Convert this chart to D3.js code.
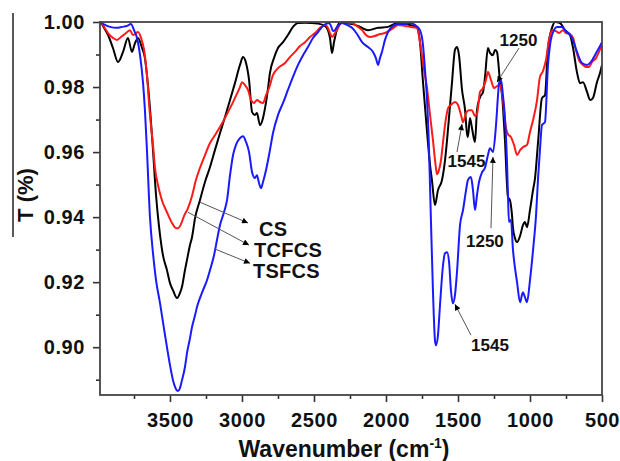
<!DOCTYPE html>
<html>
<head>
<meta charset="utf-8">
<script src="https://cdnjs.cloudflare.com/ajax/libs/d3/7.8.5/d3.min.js"></script>
<style>
  body { margin: 0; background: #fff; }
  text { font-family: Arial, "Liberation Sans", sans-serif; font-weight: bold; fill: #111; }
</style>
</head>
<body>
<script>
// FTIR spectra, [wavenumber (cm-1), T]
var csData = [
  [3986,1.0000],[3979,0.9998],[3958,0.9982],[3930,0.9960],[3896,0.9920],[3861,0.9877],[3826,0.9908],
  [3792,0.9951],[3764,0.9908],[3743,0.9935],[3722,0.9951],[3694,0.9920],[3674,0.9889],[3660,0.9837],
  [3639,0.9735],[3618,0.9606],[3597,0.9468],[3583,0.9400],[3569,0.9345],[3549,0.9283],[3521,0.9237],
  [3500,0.9197],[3479,0.9175],[3451,0.9151],[3431,0.9166],[3417,0.9185],[3396,0.9237],[3382,0.9268],
  [3361,0.9314],[3347,0.9338],[3326,0.9397],[3292,0.9452],[3257,0.9508],[3222,0.9554],[3188,0.9606],
  [3153,0.9658],[3118,0.9708],[3083,0.9760],[3049,0.9812],[3014,0.9868],[2993,0.9892],[2972,0.9874],
  [2951,0.9822],[2930,0.9723],[2910,0.9714],[2896,0.9720],[2875,0.9683],[2854,0.9705],[2840,0.9735],
  [2819,0.9797],[2806,0.9843],[2778,0.9889],[2750,0.9920],[2715,0.9938],[2681,0.9960],[2646,0.9985],
  [2611,0.9997],[2562,0.9998],[2472,0.9995],[2424,0.9988],[2403,0.9975],[2389,0.9951],[2375,0.9905],
  [2361,0.9938],[2347,0.9966],[2333,0.9991],[2319,0.9997],[2236,0.9994],[2180,0.9985],[2125,0.9975],
  [2055,0.9982],[1986,0.9985],[1917,0.9997],[1833,0.9991],[1785,0.9982],[1764,0.9938],[1743,0.9815],
  [1715,0.9662],[1694,0.9560],[1681,0.9514],[1660,0.9437],[1639,0.9483],[1611,0.9514],[1590,0.9575],
  [1576,0.9637],[1555,0.9745],[1542,0.9812],[1521,0.9914],[1507,0.9923],[1493,0.9898],[1472,0.9791],
  [1451,0.9729],[1438,0.9658],[1431,0.9646],[1417,0.9705],[1403,0.9674],[1382,0.9631],[1368,0.9729],
  [1347,0.9769],[1326,0.9785],[1313,0.9828],[1292,0.9920],[1278,0.9905],[1257,0.9898],[1243,0.9914],
  [1229,0.9908],[1208,0.9815],[1194,0.9775],[1174,0.9637],[1153,0.9462],[1139,0.9452],[1125,0.9406],
  [1118,0.9366],[1104,0.9335],[1090,0.9323],[1069,0.9342],[1049,0.9375],[1035,0.9385],[1021,0.9369],
  [1000,0.9422],[979,0.9483],[965,0.9520],[944,0.9631],[917,0.9766],[896,0.9775],[875,0.9920],
  [847,0.9982],[826,1.0000],[792,0.9997],[757,0.9975],[722,0.9960],[701,0.9920],[674,0.9846],
  [653,0.9812],[632,0.9815],[604,0.9785],[583,0.9760],[563,0.9766],[535,0.9815],[514,0.9843],[500,0.9868]
];

var tcfcsData = [
  [3986,1.0000],[3958,0.9985],[3930,0.9966],[3896,0.9951],[3868,0.9945],[3840,0.9954],[3805,0.9966],
  [3778,0.9975],[3757,0.9960],[3736,0.9966],[3722,0.9969],[3701,0.9951],[3680,0.9914],[3660,0.9837],
  [3639,0.9714],[3618,0.9622],[3604,0.9551],[3583,0.9498],[3556,0.9452],[3521,0.9415],[3486,0.9382],
  [3458,0.9366],[3444,0.9366],[3424,0.9378],[3403,0.9403],[3375,0.9428],[3347,0.9465],[3320,0.9514],
  [3292,0.9551],[3257,0.9591],[3222,0.9628],[3188,0.9652],[3153,0.9677],[3118,0.9705],[3083,0.9735],
  [3049,0.9766],[3014,0.9800],[3000,0.9815],[2979,0.9806],[2958,0.9791],[2937,0.9760],[2917,0.9751],
  [2896,0.9760],[2875,0.9754],[2854,0.9751],[2833,0.9775],[2812,0.9797],[2785,0.9837],[2750,0.9858],
  [2701,0.9874],[2667,0.9892],[2632,0.9908],[2597,0.9926],[2562,0.9938],[2528,0.9954],[2493,0.9966],
  [2458,0.9982],[2424,0.9991],[2403,0.9982],[2389,0.9966],[2375,0.9954],[2354,0.9966],[2340,0.9975],
  [2319,0.9994],[2306,1.0000],[2264,0.9998],[2236,0.9997],[2194,0.9985],[2166,0.9975],[2139,0.9960],
  [2111,0.9954],[2077,0.9957],[2042,0.9963],[2007,0.9966],[1972,0.9975],[1938,0.9985],[1917,0.9991],
  [1868,0.9988],[1833,0.9985],[1785,0.9982],[1764,0.9938],[1736,0.9852],[1715,0.9797],[1694,0.9714],
  [1674,0.9637],[1653,0.9551],[1646,0.9532],[1632,0.9545],[1618,0.9575],[1604,0.9631],[1583,0.9705],
  [1569,0.9735],[1549,0.9745],[1521,0.9754],[1500,0.9745],[1479,0.9714],[1465,0.9692],[1444,0.9720],
  [1424,0.9729],[1403,0.9729],[1382,0.9711],[1368,0.9717],[1347,0.9785],[1326,0.9797],[1306,0.9822],
  [1292,0.9846],[1271,0.9822],[1250,0.9797],[1229,0.9803],[1208,0.9806],[1188,0.9760],[1167,0.9674],
  [1153,0.9655],[1132,0.9646],[1111,0.9622],[1090,0.9591],[1069,0.9606],[1049,0.9615],[1021,0.9622],
  [1000,0.9662],[979,0.9698],[951,0.9760],[931,0.9831],[910,0.9849],[889,0.9883],[868,0.9945],
  [847,0.9975],[819,0.9972],[799,0.9966],[771,0.9975],[750,0.9966],[722,0.9963],[701,0.9951],
  [681,0.9914],[660,0.9883],[632,0.9868],[611,0.9862],[590,0.9862],[569,0.9877],[542,0.9889],
  [521,0.9908],[500,0.9929]
];

var tsfcsData = [
  [3986,1.0000],[3951,0.9991],[3917,0.9985],[3868,0.9982],[3833,0.9985],[3798,0.9988],[3771,0.9994],
  [3750,0.9975],[3729,0.9951],[3708,0.9898],[3687,0.9812],[3674,0.9729],[3660,0.9606],[3639,0.9400],
  [3618,0.9289],[3597,0.9206],[3569,0.9135],[3542,0.9058],[3521,0.9000],[3500,0.8945],[3479,0.8898],
  [3458,0.8871],[3444,0.8865],[3431,0.8874],[3417,0.8898],[3396,0.8939],[3382,0.8982],[3361,0.9028],
  [3347,0.9062],[3326,0.9098],[3313,0.9123],[3292,0.9151],[3271,0.9175],[3243,0.9206],[3222,0.9237],
  [3194,0.9283],[3174,0.9329],[3153,0.9375],[3125,0.9415],[3104,0.9452],[3083,0.9529],[3062,0.9591],
  [3042,0.9622],[3014,0.9643],[2993,0.9649],[2972,0.9631],[2951,0.9600],[2930,0.9538],[2910,0.9520],
  [2896,0.9529],[2882,0.9505],[2868,0.9489],[2854,0.9508],[2833,0.9545],[2806,0.9606],[2785,0.9658],
  [2750,0.9714],[2715,0.9751],[2681,0.9791],[2646,0.9831],[2611,0.9868],[2576,0.9898],[2542,0.9923],
  [2507,0.9951],[2472,0.9969],[2444,0.9985],[2417,0.9994],[2396,0.9997],[2382,0.9988],[2368,0.9972],
  [2354,0.9975],[2340,0.9985],[2319,0.9994],[2306,0.9997],[2271,0.9991],[2236,0.9982],[2201,0.9963],
  [2166,0.9938],[2125,0.9923],[2090,0.9908],[2070,0.9889],[2055,0.9868],[2042,0.9889],[2028,0.9908],
  [2007,0.9945],[1986,0.9969],[1951,0.9988],[1917,0.9994],[1868,0.9994],[1833,0.9997],[1799,0.9991],
  [1764,0.9975],[1743,0.9929],[1729,0.9852],[1715,0.9760],[1701,0.9606],[1688,0.9391],[1674,0.9175],
  [1660,0.9022],[1653,0.9006],[1639,0.9037],[1625,0.9129],[1604,0.9252],[1590,0.9289],[1576,0.9292],
  [1562,0.9262],[1549,0.9175],[1535,0.9135],[1521,0.9160],[1507,0.9231],[1486,0.9375],[1465,0.9422],
  [1444,0.9483],[1431,0.9514],[1410,0.9523],[1396,0.9483],[1382,0.9422],[1368,0.9468],[1354,0.9508],
  [1333,0.9538],[1313,0.9551],[1292,0.9591],[1278,0.9612],[1257,0.9600],[1236,0.9683],[1222,0.9775],
  [1215,0.9812],[1201,0.9822],[1188,0.9775],[1174,0.9705],[1160,0.9575],[1153,0.9468],[1146,0.9385],
  [1132,0.9391],[1118,0.9298],[1104,0.9243],[1090,0.9200],[1069,0.9138],[1056,0.9160],[1049,0.9169],
  [1035,0.9154],[1021,0.9138],[1000,0.9206],[979,0.9298],[958,0.9406],[944,0.9520],[931,0.9606],
  [917,0.9683],[896,0.9692],[875,0.9868],[861,0.9929],[847,0.9960],[812,0.9985],[778,0.9985],
  [757,0.9975],[736,0.9966],[708,0.9951],[674,0.9908],[639,0.9874],[604,0.9868],[576,0.9877],
  [549,0.9898],[521,0.9920],[500,0.9938]
];

// ticks
var xTicks = [3500, 3000, 2500, 2000, 1500, 1000, 500];
var xMinorTicks = [3750, 3250, 2750, 2250, 1750, 1250, 750];
var yTicks = [0.90, 0.92, 0.94, 0.96, 0.98, 1.00];
var yMinorTicks = [0.89, 0.91, 0.93, 0.95, 0.97, 0.99];

// annotations: label text + anchor point in data units, arrows from -> to
var sampleLabels = [["CS", 2882, 0.9365], ["TCFCS", 2917, 0.9300], ["TSFCS", 2924, 0.9235]];
var peakLabels = [["1250", 1080, 0.9946], ["1545", 1441, 0.9574], ["1250", 1313, 0.9326], ["1545", 1278, 0.9008]];
var arrows = [
  [[3292, 0.9446], [2958, 0.9382]],
  [[3375, 0.9415], [2951, 0.9314]],
  [[3188, 0.9302], [2944, 0.9258]],
  [[1076, 0.9920], [1229, 0.9815]],
  [[1507, 0.9600], [1472, 0.9686]],
  [[1271, 0.9366], [1257, 0.9585]],
  [[1410, 0.9037], [1521, 0.9132]]
];

var svgWidth = 620;
var svgHeight = 461;

var margin = { top: 22, right: 18, bottom: 66, left: 100 };
var chartWidth = svgWidth - margin.left - margin.right;
var chartHeight = svgHeight - margin.top - margin.bottom;

var svg = d3.select("body")
  .append("svg")
  .attr("width", svgWidth)
  .attr("height", svgHeight);

var defs = svg.append("defs");
defs.append("clipPath").attr("id", "plotClip")
  .append("rect").attr("width", chartWidth).attr("height", chartHeight + 1).attr("y", -1);
defs.append("marker")
  .attr("id", "head")
  .attr("viewBox", "0 0 10 10")
  .attr("refX", 10).attr("refY", 5)
  .attr("markerUnits", "userSpaceOnUse")
  .attr("markerWidth", 8).attr("markerHeight", 6)
  .attr("orient", "auto")
  .append("path").attr("d", "M0,0 L10,5 L0,10 z").attr("fill", "#000");

var chartGroup = svg.append("g")
  .attr("transform", `translate(${margin.left}, ${margin.top})`);

var x = d3.scaleLinear().domain([3986, 500]).range([0, chartWidth]);
var y = d3.scaleLinear().domain([0.8853, 1.0]).range([chartHeight, 0]);

var line = d3.line()
  .x(d => x(d[0]))
  .y(d => y(d[1]))
  .curve(d3.curveMonotoneX);

// spectra
var series = [
  { data: csData, color: "#000000" },
  { data: tcfcsData, color: "#ff1a1a" },
  { data: tsfcsData, color: "#1a1aff" }
];

var plot = chartGroup.append("g").attr("clip-path", "url(#plotClip)");
plot.selectAll(".spec")
  .data(series)
  .enter()
  .append("path")
  .attr("class", "spec")
  .attr("d", d => line(d.data))
  .attr("fill", "none")
  .attr("stroke", d => d.color)
  .attr("stroke-width", 2)
  .attr("stroke-linejoin", "round");

// axes
var xAxis = d3.axisBottom(x).tickValues(xTicks).tickSize(7).tickSizeOuter(0).tickPadding(11).tickFormat(d3.format("d"));
var xMinor = d3.axisBottom(x).tickValues(xMinorTicks).tickSize(4).tickSizeOuter(0).tickFormat("");
var yAxis = d3.axisLeft(y).tickValues(yTicks).tickSize(7).tickSizeOuter(0).tickPadding(8).tickFormat(d3.format(".2f"));
var yMinor = d3.axisLeft(y).tickValues(yMinorTicks).tickSize(4).tickSizeOuter(0).tickFormat("");

function styleAxis(g) {
  g.select(".domain").remove();
  g.selectAll("line").attr("stroke", "#333").attr("stroke-width", 1.6);
  g.selectAll("text").style("font-size", "20px").style("letter-spacing", "0.6px")
    .style("font-family", "Arial, 'Liberation Sans', sans-serif").style("font-weight", "bold").attr("fill", "#111");
}

chartGroup.append("g").attr("transform", `translate(0, ${chartHeight})`).call(xAxis).call(styleAxis);
chartGroup.append("g").attr("transform", `translate(0, ${chartHeight})`).call(xMinor).call(styleAxis);
chartGroup.append("g").call(yAxis).call(styleAxis);
chartGroup.append("g").call(yMinor).call(styleAxis);

// frame
chartGroup.append("rect")
  .attr("width", chartWidth)
  .attr("height", chartHeight)
  .attr("fill", "none")
  .attr("stroke", "#444")
  .attr("stroke-width", 1.8);

// arrows and labels
chartGroup.selectAll(".arrow")
  .data(arrows)
  .enter()
  .append("line")
  .attr("class", "arrow")
  .attr("x1", d => x(d[0][0])).attr("y1", d => y(d[0][1]))
  .attr("x2", d => x(d[1][0])).attr("y2", d => y(d[1][1]))
  .attr("stroke", "#555")
  .attr("stroke-width", 1)
  .attr("marker-end", "url(#head)");

chartGroup.selectAll(".sampleLabel")
  .data(sampleLabels)
  .enter()
  .append("text")
  .attr("class", "sampleLabel")
  .attr("x", d => x(d[1]))
  .attr("y", d => y(d[2]))
  .attr("dy", "0.36em")
  .style("font-size", "20px")
  .style("letter-spacing", "0.3px")
  .text(d => d[0]);

chartGroup.selectAll(".peakLabel")
  .data(peakLabels)
  .enter()
  .append("text")
  .attr("class", "peakLabel")
  .attr("x", d => x(d[1]))
  .attr("y", d => y(d[2]))
  .attr("dy", "0.36em")
  .attr("text-anchor", "middle")
  .style("font-size", "17px")
  .text(d => d[0]);

// axis titles
var xTitle = svg.append("text")
  .attr("x", 344)
  .attr("y", 457)
  .attr("text-anchor", "middle")
  .style("font-size", "23px");
xTitle.append("tspan").text("Wavenumber (cm");
xTitle.append("tspan").attr("dy", -9).style("font-size", "14px").text("-1");
xTitle.append("tspan").attr("dy", 9).text(")");

svg.append("text")
  .attr("transform", "translate(33, 195) rotate(-90)")
  .attr("text-anchor", "middle")
  .style("font-size", "22px")
  .text("T (%)");

// stray rule at the left edge of the figure
svg.append("line")
  .attr("x1", 13).attr("x2", 13)
  .attr("y1", 13).attr("y2", 237)
  .attr("stroke", "#222")
  .attr("stroke-width", 1.5);
</script>
</body>
</html>
